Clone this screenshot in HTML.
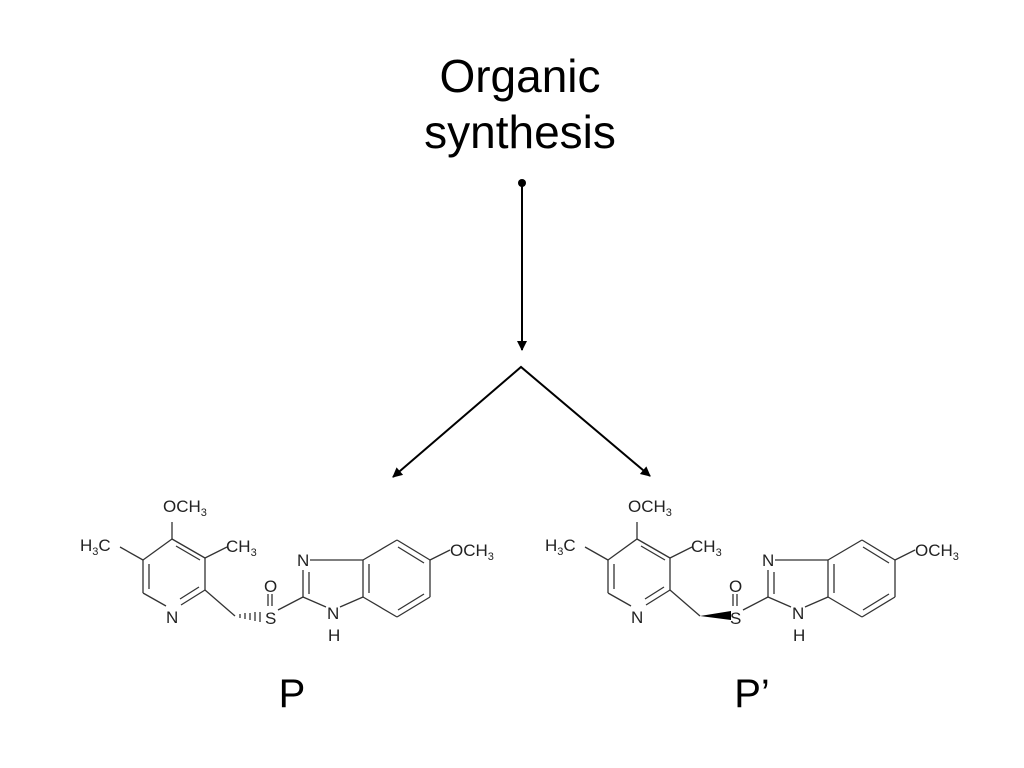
<!DOCTYPE html>
<html><head><meta charset="utf-8"><style>
body{margin:0;background:#fff;}
svg{display:block;}
.t{font-family:"Liberation Sans",sans-serif;fill:#000;}
.m{font-family:"Liberation Sans",sans-serif;font-size:17px;fill:#222;}
.s{font-size:11px;}
</style></head><body>
<svg width="1024" height="768" viewBox="0 0 1024 768" xmlns="http://www.w3.org/2000/svg">
<defs>
<marker id="ah" viewBox="0 0 10 10" refX="9" refY="5" markerWidth="11" markerHeight="10" orient="auto-start-reverse" markerUnits="userSpaceOnUse">
<path d="M0,0 L10,5 L0,10 z" fill="#000"/></marker>
<g id="mol" stroke="#333" stroke-width="1.3" fill="none">
<line x1="172" y1="522" x2="172" y2="539"/>
<line x1="172" y1="539" x2="205" y2="558"/>
<line x1="176" y1="546" x2="200" y2="560"/>
<line x1="205" y1="558" x2="205" y2="590"/>
<line x1="205" y1="590" x2="181" y2="605"/>
<line x1="199" y1="587" x2="180" y2="599"/>
<line x1="166" y1="606" x2="143" y2="593"/>
<line x1="143" y1="593" x2="143" y2="560"/>
<line x1="149" y1="589" x2="149" y2="564"/>
<line x1="143" y1="560" x2="172" y2="539"/>
<line x1="143" y1="560" x2="120" y2="547"/>
<line x1="205" y1="558" x2="227" y2="547"/>
<line x1="205" y1="590" x2="235" y2="616"/>
<line x1="268" y1="594" x2="268" y2="606"/>
<line x1="272" y1="594" x2="272" y2="606"/>
<line x1="278" y1="610" x2="303" y2="597"/>
<line x1="303" y1="597" x2="303" y2="570"/>
<line x1="309" y1="594" x2="309" y2="572"/>
<line x1="310" y1="560" x2="363" y2="560"/>
<line x1="303" y1="597" x2="326" y2="607"/>
<line x1="340" y1="607" x2="363" y2="597"/>
<line x1="363" y1="560" x2="363" y2="597"/>
<line x1="369" y1="564" x2="369" y2="593"/>
<line x1="363" y1="560" x2="397" y2="540"/>
<line x1="397" y1="540" x2="430" y2="560"/>
<line x1="398" y1="547" x2="424" y2="563"/>
<line x1="430" y1="560" x2="430" y2="597"/>
<line x1="430" y1="597" x2="397" y2="617"/>
<line x1="424" y1="594" x2="398" y2="610"/>
<line x1="397" y1="617" x2="363" y2="597"/>
<line x1="430" y1="560" x2="450" y2="550"/>
</g>
<g id="lab">
<text class="m" x="163" y="512">OCH<tspan class="s" dy="4">3</tspan></text>
<text class="m" x="80" y="551">H<tspan class="s" dy="4">3</tspan><tspan dy="-4">C</tspan></text>
<text class="m" x="226" y="552">CH<tspan class="s" dy="4">3</tspan></text>
<text class="m" x="166" y="623">N</text>
<text class="m" x="265" y="624">S</text>
<text class="m" x="264" y="592">O</text>
<text class="m" x="297" y="566">N</text>
<text class="m" x="327" y="619">N</text>
<text class="m" x="328" y="641">H</text>
<text class="m" x="450" y="556">OCH<tspan class="s" dy="4">3</tspan></text>
</g>
</defs>

<text class="t" x="520" y="92" font-size="46" text-anchor="middle">Organic</text>
<text class="t" x="520" y="148" font-size="46" text-anchor="middle">synthesis</text>
<circle cx="522" cy="183" r="4" fill="#000"/>
<line x1="522" y1="183" x2="522" y2="350" stroke="#000" stroke-width="2" marker-end="url(#ah)"/>
<polyline points="393,477 521,367 650,476" fill="none" stroke="#000" stroke-width="2" marker-start="url(#ah)" marker-end="url(#ah)"/>

<use href="#mol"/>
<use href="#lab"/>
<g stroke="#333" stroke-width="1.3">
<line x1="240" y1="614" x2="240" y2="618"/><line x1="245" y1="613" x2="245" y2="619"/>
<line x1="250" y1="613" x2="250" y2="620"/><line x1="255" y1="612" x2="255" y2="621"/>
<line x1="260" y1="612" x2="260" y2="622"/>
</g>

<g transform="translate(465,0)">
<use href="#mol"/>
<use href="#lab"/>
<polygon points="235,616 266,611 266,620" fill="#000"/>
</g>

<text class="t" x="292" y="707" font-size="40" text-anchor="middle">P</text>
<text class="t" x="752" y="707" font-size="40" text-anchor="middle">P’</text>
</svg>
</body></html>
